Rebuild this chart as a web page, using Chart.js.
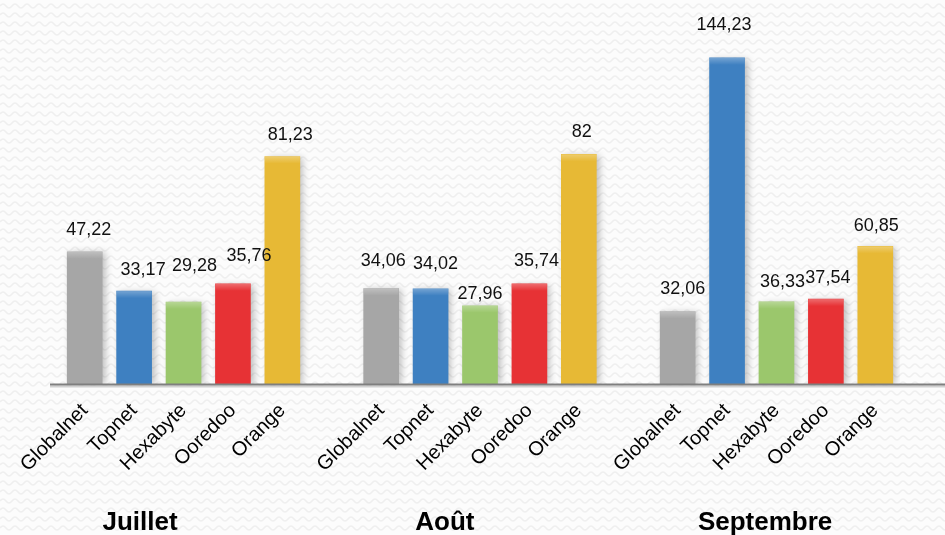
<!DOCTYPE html>
<html><head><meta charset="utf-8">
<script src="https://cdn.jsdelivr.net/npm/chart.js@4.4.0/dist/chart.umd.min.js"></script>
<style>html,body{margin:0;padding:0;background:#fbfbfb;} #wrap{width:945px;height:535px;position:relative;}</style>
</head><body><div id="wrap"><canvas id="c"></canvas></div>
<script>
// ---- data ----
const months = ['Juillet', 'Août', 'Septembre'];
const operators = ['Globalnet', 'Topnet', 'Hexabyte', 'Ooredoo', 'Orange'];
const juillet = [47.22, 33.17, 29.28, 35.76, 81.23];
const aout = [34.06, 34.02, 27.96, 35.74, 82];
const septembre = [32.06, 144.23, 36.33, 37.54, 60.85];

// ---- styling / layout constants ----
const barColors = ['#a6a6a6', '#3e80c1', '#9bc76c', '#e73235', '#e7b935'];
const monthLabelAt = [1.12, 7.29, 13.77];          // slot position of month captions
const labelNudgeX = [4, 9, 11, 16, 8, 2, 5, 0, 7, 3, 5, -3, 6, 2, 1];
const labelNudgeY = [0, 1, -14, -6, 0, -6, -3, 10, -1, 0, 0, -11, 2, 1, 2];
const FONT = "'Liberation Sans', Arial, sans-serif";

// ---- build flat category table (a spacer slot between months) ----
const labels = [], dataJA = [], dataS = [], colorIdx = [], barOrder = [];
[juillet, aout, septembre].forEach((vals, m) => {
  if (m > 0) { labels.push(''); dataJA.push(null); dataS.push(null); colorIdx.push(0); barOrder.push(-1); }
  operators.forEach((op, k) => {
    labels.push(op);
    dataJA.push(m < 2 ? vals[k] : null);
    dataS.push(m === 2 ? vals[k] : null);
    colorIdx.push(k);
    barOrder.push(m * 5 + k);
  });
});
const colors = colorIdx.map(k => barColors[k]);
const fmt = v => String(v).replace('.', ',');

const bgPlugin = {
  id: 'bg',
  beforeDraw(chart) {
    const c = chart.ctx, W = chart.width, H = chart.height;
    c.save();
    c.fillStyle = '#fcfcfc';
    c.fillRect(0, 0, W, H);
    c.strokeStyle = '#efefef';
    c.lineWidth = 1.5;
    for (let y = 4; y < H; y += 9) {
      c.beginPath();
      for (let x = 0; x <= W; x += 12) {
        c.moveTo(x, y + 2);
        c.quadraticCurveTo(x + 3, y - 2, x + 6, y + 2);
        c.quadraticCurveTo(x + 9, y + 6, x + 12, y + 2);
      }
      c.stroke();
    }
    c.restore();
  }
};

const shadowPlugin = {
  id: 'shadow',
  beforeDatasetsDraw(chart) {
    const c = chart.ctx;
    c.save();
    c.shadowColor = 'rgba(0,0,0,0.25)';
    c.shadowBlur = 7;
    c.shadowOffsetX = 3;
    c.shadowOffsetY = 1;
  },
  afterDatasetsDraw(chart) {
    const c = chart.ctx;
    c.restore();
    // soft highlight at the top of each bar
    c.save();
    chart.data.datasets.forEach((ds, di) => {
      chart.getDatasetMeta(di).data.forEach((el, i) => {
        if (ds.data[i] === null) return;
        const g = c.createLinearGradient(0, el.y, 0, el.y + 7);
        g.addColorStop(0, 'rgba(255,255,255,0.28)');
        g.addColorStop(1, 'rgba(255,255,255,0)');
        c.fillStyle = g;
        c.fillRect(el.x - el.width / 2, el.y, el.width, 7);
      });
    });
    c.restore();
  }
};

const baselinePlugin = {
  id: 'baseline',
  afterDatasetsDraw(chart) {
    const c = chart.ctx;
    const y0 = Math.round(chart.scales.y.getPixelForValue(0));
    c.save();
    c.strokeStyle = '#d0d0d0';
    c.lineWidth = 2;
    c.beginPath(); c.moveTo(chart.chartArea.left - 10, y0 + 2.5); c.lineTo(chart.width, y0 + 2.5); c.stroke();
    c.strokeStyle = '#7f7f7f';
    c.lineWidth = 2;
    c.beginPath(); c.moveTo(chart.chartArea.left - 10, y0 + 0.5); c.lineTo(chart.width, y0 + 0.5); c.stroke();
    c.restore();
  }
};

const valuePlugin = {
  id: 'values',
  afterDatasetsDraw(chart) {
    const c = chart.ctx;
    c.save();
    c.font = '18px ' + FONT;
    c.fillStyle = '#111';
    c.textAlign = 'center';
    c.textBaseline = 'middle';
    chart.data.datasets.forEach((ds, di) => {
      const meta = chart.getDatasetMeta(di);
      meta.data.forEach((el, i) => {
        const v = ds.data[i];
        if (v === null || v === undefined) return;
        const n = barOrder[i];
        c.fillText(fmt(v), el.x + labelNudgeX[n], el.y - 22 + labelNudgeY[n]);
      });
    });
    c.restore();
  }
};

const monthPlugin = {
  id: 'months',
  afterDraw(chart) {
    const c = chart.ctx, xs = chart.scales.x;
    c.save();
    c.font = 'bold 26px ' + FONT;
    c.fillStyle = '#000';
    c.textAlign = 'center';
    c.textBaseline = 'alphabetic';
    months.forEach((m, i) => {
      c.fillText(m, xs.getPixelForValue(monthLabelAt[i]), xs.top + 146);
    });
    c.restore();
  }
};

new Chart(document.getElementById('c'), {
  type: 'bar',
  data: {
    labels: labels,
    datasets: [
      { data: dataJA, yAxisID: 'y', backgroundColor: colors, grouped: false, barThickness: 35, borderWidth: 0 },
      { data: dataS, yAxisID: 'y2', backgroundColor: colors, grouped: false, barThickness: 35, borderWidth: 0 }
    ]
  },
  options: {
    responsive: true,
    maintainAspectRatio: false,
    animation: false,
    layout: { padding: { top: 20, left: 60, right: 45, bottom: 0 } },
    plugins: { legend: { display: false }, tooltip: { enabled: false } },
    scales: {
      x: {
        type: 'category', offset: true,
        grid: { display: false, drawTicks: false }, border: { display: false },
        ticks: { autoSkip: false, minRotation: 45, maxRotation: 45, padding: 15,
                 font: { family: FONT, size: 20 }, color: '#000' },
        afterFit: s => { s.height = 151; }
      },
      y: { display: false, min: 0, max: 130 },
      y2: { display: false, min: 0, max: 161 }
    }
  },
  plugins: [bgPlugin, shadowPlugin, baselinePlugin, valuePlugin, monthPlugin]
});
</script>
</body></html>
